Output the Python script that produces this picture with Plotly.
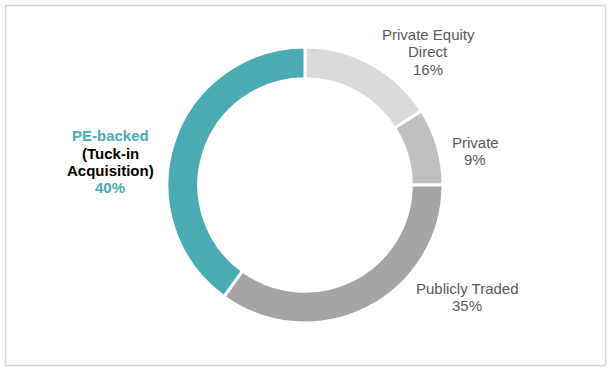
import plotly.graph_objects as go

W, H = 611, 371

categories = ["Private Equity Direct", "Private", "Publicly Traded", "PE-backed (Tuck-in Acquisition)"]
values = [16, 9, 35, 40]
colors = ["#D9D9D9", "#BFBFBF", "#A5A5A5", "#4BABB2"]

# label lines per slice
label_lines = [
    ["Private Equity", "Direct", "16%"],
    ["Private", "9%"],
    ["Publicly Traded", "35%"],
    ["PE-backed", "(Tuck-in", "Acquisition)", "40%"],
]
label_line_colors = [
    ["#595959"] * 3,
    ["#595959"] * 2,
    ["#595959"] * 2,
    ["#4BABB2", "#000000", "#000000", "#4BABB2"],
]
label_bold = [False, False, False, True]
# pixel layout of label lines (x centre, y of each line centre)
label_x = [428, 475, 467, 110]
label_y = [[33, 50.5, 68], [141, 158], [287, 304], [134, 152, 170, 187]]

cx, cy, r = 305, 185, 138

fig = go.Figure(go.Pie(
    labels=categories,
    values=values,
    sort=False,
    direction="clockwise",
    rotation=0,
    hole=0.77,
    marker=dict(colors=colors, line=dict(color="white", width=3)),
    textinfo="none",
    hoverinfo="label+percent",
    showlegend=False,
    domain=dict(x=[(cx - r) / W, (cx + r) / W], y=[1 - (cy + r) / H, 1 - (cy - r) / H]),
))

for lines, cols, bold, px, pys in zip(label_lines, label_line_colors, label_bold, label_x, label_y):
    for txt, col, py in zip(lines, cols, pys):
        fig.add_annotation(
            x=px / W, y=1 - (py + 1) / H, xref="paper", yref="paper",
            text=f"<b>{txt}</b>" if bold else txt, showarrow=False, align="center",
            xanchor="center", yanchor="middle",
            font=dict(family="Liberation Sans, Arial, sans-serif", size=15, color=col),
        )

fig.add_shape(type="rect", xref="paper", yref="paper",
              x0=5.5 / W, x1=605.5 / W, y0=1 - 365.5 / H, y1=1 - 5.5 / H,
              line=dict(color="#D4D4D4", width=1.5))

fig.update_layout(
    width=W, height=H,
    margin=dict(l=0, r=0, t=0, b=0),
    paper_bgcolor="white", plot_bgcolor="white",
)

fig.write_html("out.html", config={"displayModeBar": False},
               post_script="document.body.style.margin='0';document.body.style.overflow='hidden';")
